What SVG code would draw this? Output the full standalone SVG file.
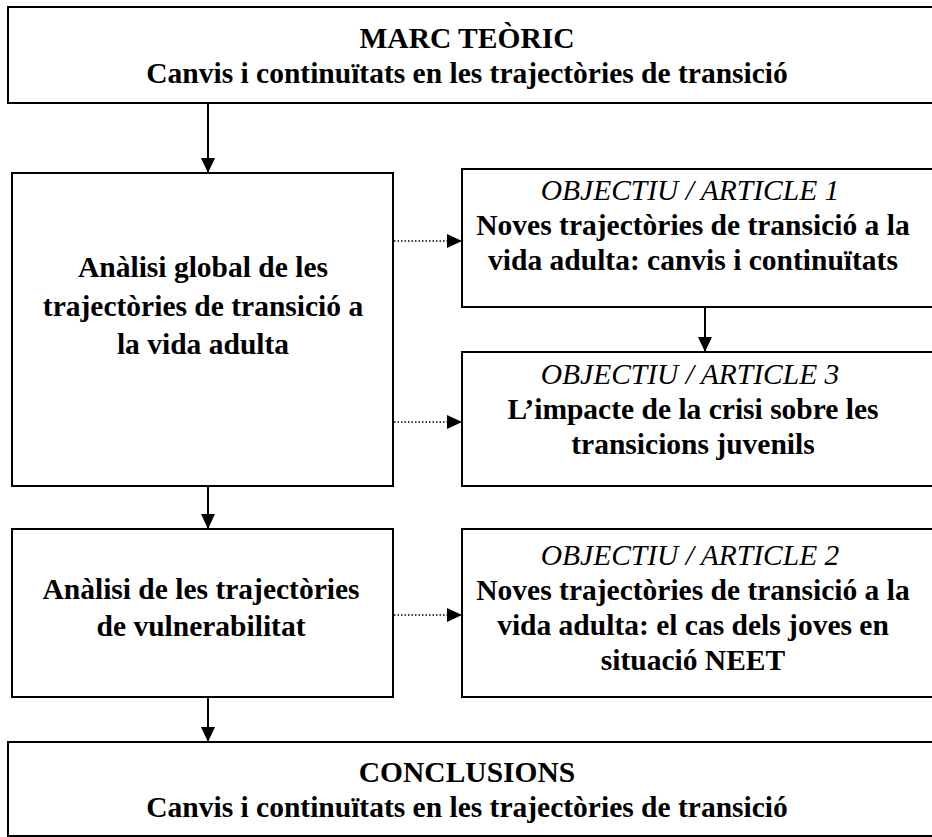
<svg xmlns="http://www.w3.org/2000/svg" width="932" height="837" viewBox="0 0 932 837">
<style>
.box{fill:#fff;stroke:#000;stroke-width:2}
.t{font-family:"Liberation Serif","Times New Roman",serif;font-size:29.5px;font-weight:bold;text-anchor:middle;fill:#000}
.i{font-style:italic;font-weight:normal}
.solid{stroke:#000;stroke-width:2;fill:none}
.dot{stroke:#000;stroke-width:1.5;stroke-dasharray:1.5 2;fill:none}
</style>
<defs>
<marker id="ah" markerUnits="userSpaceOnUse" markerWidth="16" markerHeight="15" refX="15" refY="7" orient="auto">
<path d="M0,0 L15,7 L0,14 z" fill="#000"/>
</marker>
</defs>
<rect width="932" height="837" fill="#fff"/>
<g id="connectors">
<line class="solid" x1="208" y1="103" x2="208" y2="173" marker-end="url(#ah)"/>
<line class="solid" x1="208" y1="486" x2="208" y2="529" marker-end="url(#ah)"/>
<line class="solid" x1="208" y1="697" x2="208" y2="742" marker-end="url(#ah)"/>
<line class="solid" x1="705" y1="307" x2="705" y2="352" marker-end="url(#ah)"/>
<line class="dot" x1="394" y1="241" x2="462" y2="241" marker-end="url(#ah)"/>
<line class="dot" x1="394" y1="422" x2="462" y2="422" marker-end="url(#ah)"/>
<line class="dot" x1="394" y1="615" x2="462" y2="615" marker-end="url(#ah)"/>
</g>
<g id="marc">
<rect class="box" x="8" y="7" width="926" height="96"/>
<text class="t" x="467" y="48">MARC TEÒRIC</text>
<text class="t" x="467" y="83">Canvis i continuïtats en les trajectòries de transició</text>
</g>
<g id="analisi-global">
<rect class="box" x="12" y="173" width="381" height="313"/>
<text class="t" x="203" y="277">Anàlisi global de les</text>
<text class="t" x="203" y="316">trajectòries de transició a</text>
<text class="t" x="203" y="354">la vida adulta</text>
</g>
<g id="article1">
<rect class="box" x="462" y="169" width="472" height="138"/>
<text class="t i" x="690" y="200">OBJECTIU / ARTICLE 1</text>
<text class="t" x="693" y="235">Noves trajectòries de transició a la</text>
<text class="t" x="693" y="270">vida adulta: canvis i continuïtats</text>
</g>
<g id="article3">
<rect class="box" x="462" y="352" width="472" height="134"/>
<text class="t i" x="690" y="384">OBJECTIU / ARTICLE 3</text>
<text class="t" x="693" y="419">L’impacte de la crisi sobre les</text>
<text class="t" x="693" y="454">transicions juvenils</text>
</g>
<g id="analisi-vulnerabilitat">
<rect class="box" x="12" y="529" width="381" height="168"/>
<text class="t" x="201" y="599">Anàlisi de les trajectòries</text>
<text class="t" x="201" y="636">de vulnerabilitat</text>
</g>
<g id="article2">
<rect class="box" x="462" y="529" width="472" height="168"/>
<text class="t i" x="690" y="565">OBJECTIU / ARTICLE 2</text>
<text class="t" x="693" y="600">Noves trajectòries de transició a la</text>
<text class="t" x="693" y="635">vida adulta: el cas dels joves en</text>
<text class="t" x="693" y="670">situació NEET</text>
</g>
<g id="conclusions">
<rect class="box" x="8" y="742" width="926" height="94"/>
<text class="t" x="467" y="782">CONCLUSIONS</text>
<text class="t" x="467" y="817">Canvis i continuïtats en les trajectòries de transició</text>
</g>
</svg>
